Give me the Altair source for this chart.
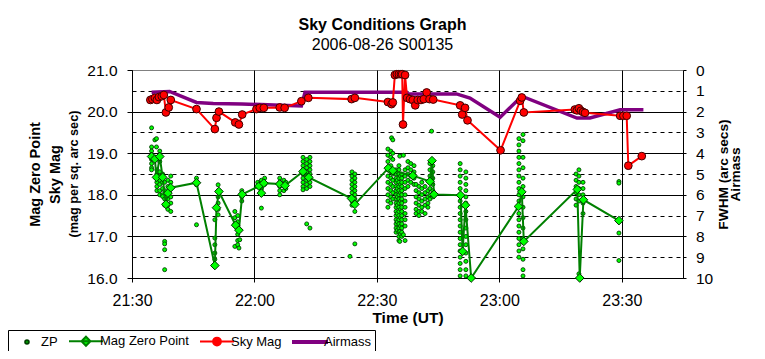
import altair as alt
import pandas as pd

FONT = "Liberation Sans"

TITLE = "Sky Conditions Graph"
SUBTITLE = "2006-08-26 S00135"
X_TITLE = "Time (UT)"
LEFT_TITLE = ["Mag Zero Point", "Sky Mag"]
LEFT_UNITS = "(mag per sq. arc sec)"
RIGHT_TITLE = ["FWHM (arc secs)", "Airmass"]
SERIES = ["ZP", "Mag Zero Point", "Sky Mag", "Airmass"]

# x positions are minutes after 21:30 UT
X_TICKS = [0, 30, 60, 90, 120]
X_TICK_LABELS = ["21:30", "22:00", "22:30", "23:00", "23:30"]
LEFT_TICKS = [16, 16.5, 17, 17.5, 18, 18.5, 19, 19.5, 20, 20.5, 21]
RIGHT_TICKS = [0, 1, 2, 3, 4, 5, 6, 7, 8, 9, 10]

# Mag Zero Point (green line + diamonds)
MZP_MIN = [4.8, 5.6, 6.0, 6.8, 7.5, 8.3, 8.8, 9.5, 15.8, 20.3,
           20.7, 21.3, 25.4, 26.2, 27.0, 31.1, 31.7, 32.3, 36.2, 37.5,
           41.9, 43.3, 53.8, 54.6, 62.8, 63.9, 68.8, 73.0, 73.5, 74.0,
           80.5, 81.0, 81.7, 83.1, 94.7, 95.5, 96.0, 109.1, 109.7, 110.6,
           119.3]
MZP_VAL = [18.92, 18.86, 18.42, 18.92, 18.42, 17.77, 18.04, 18.17, 18.29, 16.30,
           17.69, 18.08, 17.27, 17.15, 18.01, 18.21, 18.04, 18.28, 18.26, 18.22,
           18.56, 18.42, 17.91, 17.77, 18.64, 18.58, 18.46, 18.32, 18.82, 18.01,
           17.99, 16.64, 17.75, 16.00, 17.72, 18.07, 16.88, 18.13, 16.00, 17.88,
           17.38]

# Sky Mag (red line + circles)
SKY_MIN = [4.5, 5.0, 5.6, 6.1, 6.6, 7.3, 7.8, 8.3, 9.0, 9.5,
           15.8, 20.3, 20.7, 21.3, 25.3, 26.2, 27.0, 30.5, 31.3, 32.3,
           36.2, 37.4, 41.5, 43.2, 53.8, 54.6, 62.7, 63.6, 63.9, 64.4,
           64.9, 65.4, 65.9, 66.2, 66.4, 66.9, 67.4, 68.1, 68.8, 69.4,
           70.0, 70.8, 71.5, 72.2, 72.9, 73.8, 80.4, 80.9, 81.6, 82.2,
           90.3, 95.1, 95.5, 96.0, 108.5, 109.0, 109.5, 110.0, 110.5, 111.0,
           119.6, 120.4, 121.2, 121.6, 124.9]
SKY_VAL = [20.28, 20.30, 20.33, 20.28, 20.35, 20.37, 20.40, 19.98, 20.10, 20.28,
           20.06, 19.58, 19.85, 20.00, 19.74, 19.69, 19.93, 20.06, 20.09, 20.09,
           20.10, 20.09, 20.25, 20.33, 20.30, 20.33, 20.23, 20.18, 20.22, 20.88,
           20.90, 20.90, 20.90, 20.90, 19.69, 20.88, 20.33, 20.30, 20.28, 20.15,
           20.28, 20.28, 20.30, 20.46, 20.30, 20.29, 20.15, 19.93, 20.09, 19.79,
           19.07, 20.26, 20.34, 19.98, 20.05, 20.03, 20.08, 20.02, 19.99, 19.97,
           19.90, 19.90, 19.90, 18.70, 18.93]

# Airmass (purple line, right axis)
AIR_MIN = [4.8, 9.2, 15.8, 19.9, 26.9, 41.5, 42.4, 67.3, 67.6, 79.5,
           82.8, 90.2, 95.5, 109.0, 112.2, 119.6, 125.3]
AIR_VAL = [1.07, 1.03, 1.56, 1.61, 1.63, 1.73, 1.07, 1.07, 1.15, 1.15,
           1.35, 2.27, 1.26, 2.31, 2.31, 1.91, 1.91]

# ZP individual measurements: (minutes after 21:30, values)
ZP_COLUMNS = [
    (4.8, [19.61, 19.15, 19.05, 18.95, 18.85, 18.75, 18.65, 18.6]),
    (5.6, [19.32]),
    (6.0, [19.35, 19.15]),
    (6.1, [18.6, 18.5, 18.4, 18.3, 18.2, 18.1]),
    (6.8, [19.05, 18.95, 18.8, 18.55, 18.45, 18.35, 18.25, 18.1, 18.0]),
    (7.5, [18.5, 18.3, 18.15, 18.0, 17.96]),
    (8.0, [18.3, 18.1, 17.9, 17.75, 16.88, 16.82, 16.68, 16.2]),
    (8.8, [18.35, 18.2, 18.05, 17.9, 17.75, 17.65]),
    (9.5, [18.45, 18.3, 18.15, 17.95, 17.8, 17.6]),
    (15.8, [18.4, 18.3, 18.24, 17.28]),
    (20.3, [17.4, 16.96, 16.8, 16.6, 16.45, 16.32]),
    (21.1, [18.24, 18.1, 17.95, 17.8, 17.65, 17.52]),
    (25.2, [17.6, 17.45, 17.3, 16.76]),
    (25.9, [17.5, 17.35, 17.2, 17.05, 16.9, 16.8]),
    (26.2, [16.72]),
    (26.4, [16.92]),
    (26.9, [18.1, 17.95, 17.85]),
    (30.8, [18.3, 18.2]),
    (31.7, [17.68, 18.35, 18.15, 18.05]),
    (32.5, [18.4, 18.25]),
    (36.2, [18.4, 18.3, 18.2, 18.1, 18.0]),
    (37.2, [18.35, 18.25, 18.1]),
    (37.7, [18.3, 18.15]),
    (41.9, [18.9, 18.8, 18.7, 18.6, 18.5, 18.4, 18.3, 18.2, 18.12]),
    (42.8, [18.85, 18.75, 18.65, 18.55, 18.45, 18.35, 18.25, 18.15, 17.3]),
    (43.6, [18.9, 18.8, 18.7, 18.6, 18.5, 18.4, 18.3, 18.2, 17.2]),
    (53.4, [16.52]),
    (53.9, [18.55, 18.45, 18.35, 18.25, 18.15, 18.05, 17.95, 17.85, 17.75]),
    (54.6, [18.5, 18.4, 18.3, 18.2, 18.1, 18.0, 17.9, 17.8, 17.6, 16.82]),
    (62.7, [19.1, 18.95, 18.8, 18.6, 18.45, 18.3, 18.15, 18.0, 17.85, 17.7]),
    (63.4, [19.05, 18.9, 18.7, 18.55, 18.4, 18.25, 18.1, 17.95, 17.8]),
    (63.6, [19.37]),
    (63.9, [19.32, 19.0, 18.85, 18.5, 18.35, 18.2, 18.05, 17.9]),
    (64.7, [18.6, 18.5, 18.4, 18.3, 18.2, 18.1, 18.0, 17.9, 17.8, 17.7,
            17.6, 17.5, 17.4, 17.3, 17.2, 17.1]),
    (65.0, [18.55, 18.35, 18.15, 17.95, 17.75, 17.55, 17.35, 17.15]),
    (65.4, [18.7, 18.6, 18.5, 18.4, 18.3, 18.2, 18.1, 18.0, 17.9, 17.8,
            17.7, 17.6, 17.5, 17.4, 17.3, 17.2, 17.1, 17.0, 16.9]),
    (65.6, [18.93, 17.12, 16.88]),
    (65.8, [18.45, 18.25, 18.05, 17.85, 17.65, 17.45, 17.25, 17.05]),
    (66.1, [18.5, 18.4, 18.3, 18.2, 18.1, 18.0, 17.9, 17.8, 17.7, 17.6,
            17.5, 17.4, 17.3, 17.2, 17.1, 17.0]),
    (66.5, [18.95, 17.04]),
    (66.9, [18.6, 18.45, 18.3, 18.15, 18.0, 17.85, 17.7, 17.55, 17.4, 17.25, 16.9]),
    (67.6, [18.8, 18.65, 18.5, 18.35, 18.2]),
    (68.3, [18.75, 18.6, 18.45, 18.3]),
    (69.1, [18.7, 18.55, 18.4, 18.25]),
    (69.6, [18.25, 18.1, 17.95, 17.8, 17.65, 17.55]),
    (70.3, [18.2, 18.05, 17.9, 17.75, 17.6, 17.5]),
    (71.0, [18.3, 18.15, 18.0, 17.85, 17.7, 17.6]),
    (71.8, [18.2, 18.05, 17.9, 17.75, 17.55]),
    (72.5, [18.1, 17.95, 17.8, 17.7]),
    (73.0, [18.75, 18.6, 18.45, 18.3, 18.15, 18.0, 17.9]),
    (73.4, [19.53]),
    (73.7, [18.7, 18.55, 18.4, 18.25, 18.1, 17.95]),
    (80.4, [18.75, 18.6, 18.45, 18.3, 18.15, 18.0, 17.85, 17.7, 17.55, 17.4,
            17.25, 17.1, 16.95, 16.8, 16.65, 16.5, 16.35, 16.2, 16.05]),
    (81.8, [18.55, 18.4, 18.25, 18.1, 17.95, 17.8, 17.6, 17.4, 17.2, 17.0,
            16.8, 16.6, 16.4, 16.2, 16.05]),
    (94.8, [19.35, 19.2, 19.05, 18.9, 18.75, 18.6, 18.45, 18.3, 18.15, 18.0,
            17.85, 17.7, 17.55, 17.4, 17.25, 17.1, 16.95, 16.8, 16.65, 16.5]),
    (95.8, [19.45, 19.3, 18.9, 18.65, 18.4, 18.2, 17.95, 17.7, 17.45, 17.2,
            16.95, 16.7, 16.45, 16.2, 16.05]),
    (108.8, [18.5, 18.35, 18.2, 18.05, 17.9, 17.75]),
    (109.5, [18.6, 18.45, 18.3, 18.15, 18.0, 17.85, 16.1]),
    (110.5, [18.3, 18.15, 18.0, 17.8, 17.55]),
    (119.3, [18.32, 18.28, 17.08, 16.42]),
]

# legend symbols (fill, stroke, custom path drawn in a 12px slot scale)
LEGEND_FILLS = ["#00FF00", "#00FF00", "#FF0000", "#800080"]
LEGEND_STROKES = ["#004000", "#008000", "#FF0000", "#800080"]
LEGEND_PATHS = [
    "M1.63,0A0.3,0.3,0,1,1,1.03,0A0.3,0.3,0,1,1,1.63,0Z",
    "M-1.5,0H4.17M0.58,0L1.33,-0.75L2.08,0L1.33,0.75Z",
    "M-1.5,0H4.17M1.98,0A0.65,0.65,0,1,1,0.68,0A0.65,0.65,0,1,1,1.98,0Z",
    "M-1.5,-0.17H4.17V0.17H-1.5Z",
]

zp_df = pd.DataFrame([(m, v) for m, vals in ZP_COLUMNS for v in vals], columns=["m", "v"])
mzp_df = pd.DataFrame({"m": MZP_MIN, "v": MZP_VAL, "i": range(len(MZP_MIN))})
sky_df = pd.DataFrame({"m": SKY_MIN, "v": SKY_VAL, "i": range(len(SKY_MIN))})
air_df = pd.DataFrame({"m": AIR_MIN, "a": AIR_VAL, "i": range(len(AIR_MIN))})
legend_df = pd.DataFrame({"series": SERIES})
note_df = pd.DataFrame({"t": [LEFT_UNITS]})

x_label_expr = "[" + ",".join("'%s'" % s for s in X_TICK_LABELS) + "][round(datum.value / 30)]"

x_enc = alt.X(
    "m:Q",
    scale=alt.Scale(domain=[0, 135], nice=False, zero=False),
    axis=alt.Axis(
        values=X_TICKS, labelExpr=x_label_expr, title=X_TITLE,
        grid=True, gridColor="black", gridWidth=1, gridOpacity=1,
        domainColor="black", tickColor="black", tickSize=4, labelPadding=10,
        labelFont=FONT, labelFontSize=16, labelColor="black",
        labelFlush=False, labelOverlap=False,
        titleFont=FONT, titleFontSize=15.5, titleFontWeight="bold", titleColor="black",
        titleX=275.5, titleY=39, titleAlign="center", titleBaseline="middle",
    ),
)

y_left = alt.Y(
    "v:Q",
    scale=alt.Scale(domain=[16, 21], nice=False, zero=False),
    axis=alt.Axis(
        orient="left", values=LEFT_TICKS,
        labelExpr="datum.value % 1 === 0 ? format(datum.value, '.1f') : ''",
        grid=True, gridColor="black", gridWidth=1,
        gridDash={"condition": {"test": "datum.value % 1 !== 0", "value": [4, 4]}, "value": []},
        gridOpacity={"condition": {"test": "datum.value >= 21", "value": 0}, "value": 1},
        tickOpacity={"condition": {"test": "datum.value % 1 !== 0", "value": 0}, "value": 1},
        domainColor="black", tickColor="black", tickSize=5, labelPadding=10,
        labelFont=FONT, labelFontSize=15.5, labelColor="black", labelOverlap=False,
        title=LEFT_TITLE, titleAngle=270, titleX=-97, titleY=104,
        titleAlign="center", titleBaseline="middle", titleLineHeight=20,
        titleFont=FONT, titleFontSize=14.5, titleFontWeight="bold", titleColor="black",
    ),
)

y_right = alt.Y(
    "a:Q",
    scale=alt.Scale(domain=[0, 10], reverse=True, nice=False, zero=False),
    axis=alt.Axis(
        orient="right", values=RIGHT_TICKS, format="d", grid=False,
        domainColor="black", tickColor="black", tickSize=3, labelPadding=9.5,
        labelFont=FONT, labelFontSize=15.5, labelColor="black", labelOverlap=False,
        title=RIGHT_TITLE, titleAngle=270, titleX=40, titleY=104,
        titleAlign="center", titleBaseline="middle", titleLineHeight=12.5,
        titleFont=FONT, titleFontSize=13.7, titleFontWeight="bold", titleColor="black",
    ),
)

legend = alt.Legend(
    title=None, orient="none", legendX=-124, legendY=260, direction="horizontal",
    strokeColor="black", fillColor="white", padding=4,
    symbolSize=144, symbolStrokeWidth=2, symbolOpacity=1,
    labelFont=FONT, labelFontSize=13, labelColor="black", labelOffset=15,
    columnPadding=7,
)

zp = alt.Chart(zp_df).mark_point(
    filled=True, shape="circle", size=16, fill="#00FF00", stroke="#004000",
    strokeWidth=0.9, opacity=1,
).encode(x=x_enc, y=y_left)

mzp_line = alt.Chart(mzp_df).mark_line(color="#008000", strokeWidth=2).encode(
    x=x_enc, y=y_left, order="i:Q")
mzp_pts = alt.Chart(mzp_df).mark_point(
    filled=True, shape="diamond", size=75, fill="#00FF00", stroke="#003000",
    strokeWidth=1, opacity=1,
).encode(x=x_enc, y=y_left)

sky_line = alt.Chart(sky_df).mark_line(color="#FF0000", strokeWidth=2).encode(
    x=x_enc, y=y_left, order="i:Q")
sky_pts = alt.Chart(sky_df).mark_point(
    filled=True, shape="circle", size=60, fill="#FF0000", stroke="#400000",
    strokeWidth=1, opacity=1,
).encode(x=x_enc, y=y_left)

legend_layer = alt.Chart(legend_df).mark_point(opacity=0, filled=True, strokeWidth=2).encode(
    fill=alt.Fill("series:N", scale=alt.Scale(domain=SERIES, range=LEGEND_FILLS), legend=legend),
    stroke=alt.Stroke("series:N", scale=alt.Scale(domain=SERIES, range=LEGEND_STROKES), legend=legend),
    shape=alt.Shape("series:N", scale=alt.Scale(domain=SERIES, range=LEGEND_PATHS), legend=legend),
)

note = alt.Chart(note_df).mark_text(
    angle=270, font=FONT, fontSize=12.7, fontWeight="bold", color="black",
    align="center", baseline="middle",
).encode(text="t:N", x=alt.value(-58), y=alt.value(104))

air = alt.Chart(air_df).mark_line(color="#800080", strokeWidth=3.5).encode(
    x=x_enc, y=y_right, order="i:Q")

left = alt.layer(zp, mzp_line, mzp_pts, sky_line, sky_pts, legend_layer, note)

chart = alt.layer(air, left).resolve_scale(y="independent").properties(
    width=551, height=208,
    autosize=alt.AutoSizeParams(type="none"),
    padding={"left": 124, "top": 62, "right": 74, "bottom": 73},
    title=alt.TitleParams(
        text=TITLE, subtitle=SUBTITLE, anchor="middle", frame="group", dx=-25,
        font=FONT, fontSize=16, fontWeight="bold", color="black",
        subtitleFont=FONT, subtitleFontSize=16, subtitleColor="black",
        offset=10, subtitlePadding=4,
    ),
).configure_view(fill="#C0C0C0", stroke="#808080", strokeWidth=1)

chart.save("out.html", embed_options={"renderer": "svg", "actions": False})
